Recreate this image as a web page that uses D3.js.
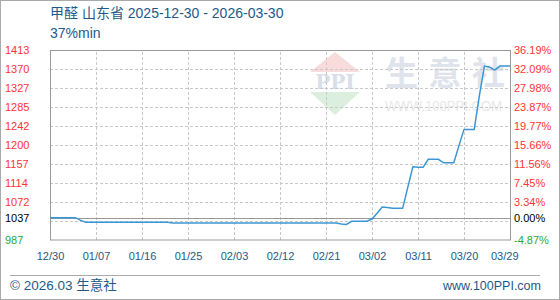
<!DOCTYPE html>
<html>
<head>
<meta charset="utf-8">
<script src="https://cdn.jsdelivr.net/npm/d3@7"></script>
<style>
  body { margin: 0; background: #fff; }
  svg { display: block; font-family: "Liberation Sans", Arial, sans-serif; }
</style>
</head>
<body>
<div id="chart"></div>
<script>
// chart data
var title = "甲醛 山东省 2025-12-30 - 2026-03-30";
var subtitle = "37%min";
var baseValue = 1037;

var xTickLabels = ["12/30", "01/07", "01/16", "01/25", "02/03", "02/12", "02/21", "03/02", "03/11", "03/20", "03/29"];
var xTickIndex = [0, 9, 18, 27, 36, 45, 54, 63, 72, 81, 90];

var yTickValues = [987, 1029.6, 1072.2, 1114.8, 1157.4, 1200, 1242.6, 1285.2, 1327.8, 1370.4, 1413];
var yTickLabels = ["987", "", "1072", "1114", "1157", "1200", "1242", "1285", "1327", "1370", "1413"];
var pctLabels = ["-4.87%", "", "3.34%", "7.45%", "11.56%", "15.66%", "19.77%", "23.87%", "27.98%", "32.09%", "36.19%"];

// daily price, 91 points
var prices = [
  1037, 1037, 1037, 1037, 1037, 1037, 1031, 1027, 1027, 1027,
  1027, 1027, 1027, 1027, 1027, 1027, 1027, 1027, 1027, 1027,
  1027, 1027, 1027, 1027, 1025, 1025, 1025, 1025, 1025, 1025,
  1025, 1025, 1025, 1025, 1025, 1025, 1025, 1025, 1025, 1025,
  1025, 1025, 1025, 1025, 1025, 1025, 1025, 1025, 1025, 1025,
  1025, 1025, 1025, 1025, 1025, 1025, 1025, 1023, 1022, 1029,
  1029, 1029, 1029, 1034, 1047, 1061, 1060, 1058, 1058, 1058,
  1105, 1151, 1150, 1150, 1168, 1168, 1168, 1160, 1160, 1160,
  1198, 1235, 1235, 1235, 1310, 1377, 1375, 1368, 1377, 1377,
  1377
];

var svgWidth = 560;
var svgHeight = 300;
var margin = { top: 50, right: 50, bottom: 60, left: 50 };
var width = svgWidth - margin.left - margin.right;
var height = svgHeight - margin.top - margin.bottom;

var blue = "#1d5a88";
var red = "#ff3333";
var green = "#2ea82e";
var mixedFont = "'Liberation Sans', 'Noto Sans CJK SC', sans-serif";

var svg = d3.select("#chart")
  .append("svg")
  .attr("width", svgWidth)
  .attr("height", svgHeight);

// outer frame
svg.append("rect")
  .attr("x", 0.5).attr("y", 0.5)
  .attr("width", svgWidth - 1).attr("height", svgHeight - 1)
  .attr("fill", "none").attr("stroke", "#aaa");

// title
svg.append("text").attr("x", 50).attr("y", 18)
  .attr("fill", blue).attr("font-size", 14)
  .attr("font-family", mixedFont)
  .text(title);
svg.append("text").attr("x", 50).attr("y", 38)
  .attr("fill", blue).attr("font-size", 14)
  .text(subtitle);

var xScale = d3.scaleLinear().domain([0, prices.length - 1]).range([0, width]);
var yScale = d3.scaleLinear().domain([987, 1413]).range([height, 0]);

var chartGroup = svg.append("g")
  .attr("transform", `translate(${margin.left}, ${margin.top})`);

// watermark
var wm = chartGroup.append("g").attr("transform", "translate(285, 0)");
wm.append("path").attr("d", "M-25,22 L0,2 L25,22 Z").attr("fill", "#f8dcdc");
wm.append("text").attr("x", 0).attr("y", 39).attr("text-anchor", "middle")
  .attr("font-size", 20).attr("font-weight", "bold")
  .attr("font-family", "'DejaVu Serif', serif")
  .attr("fill", "#d8dfea").text("PPI");
wm.append("path").attr("d", "M-25,42 L25,42 L0,65 Z").attr("fill", "#dcefdf");
wm.append("text").attr("x", 50).attr("y", 35)
  .attr("font-size", 33)
  .attr("textLength", 120).attr("lengthAdjust", "spacing")
  .attr("font-family", "'Noto Sans CJK SC', sans-serif").attr("font-weight", "bold")
  .attr("fill", "#dfe3ec").text("生意社");
wm.append("text").attr("x", 50).attr("y", 61)
  .attr("font-size", 14)
  .attr("textLength", 117).attr("lengthAdjust", "spacingAndGlyphs")
  .attr("fill", "#e8e8e8").text("WWW.100PPI.COM");

// horizontal grid
chartGroup.append("g")
  .call(d3.axisLeft(yScale).tickValues(yTickValues.slice(1, -1)).tickSize(-width).tickFormat(""))
  .call(g => g.select(".domain").remove())
  .call(g => g.selectAll("line").attr("stroke", "#c8c8c8").attr("stroke-dasharray", "3,2"));

// vertical grid
chartGroup.append("g")
  .attr("transform", `translate(0,${height})`)
  .call(d3.axisBottom(xScale).tickValues(xTickIndex.slice(1, -1)).tickSize(-height).tickFormat(""))
  .call(g => g.select(".domain").remove())
  .call(g => g.selectAll("line").attr("stroke", "#c8c8c8").attr("stroke-dasharray", "3,2"));

// base line
chartGroup.append("line")
  .attr("x1", 0).attr("x2", width)
  .attr("y1", Math.round(yScale(baseValue)) + 0.5).attr("y2", Math.round(yScale(baseValue)) + 0.5)
  .attr("stroke", "#999");

// plot frame
chartGroup.append("rect")
  .attr("x", 0.5).attr("y", 0.5)
  .attr("width", width).attr("height", height - 0.5)
  .attr("fill", "none").attr("stroke", "#999");

// left axis labels
var leftAxis = chartGroup.append("g")
  .call(d3.axisLeft(yScale).tickValues(yTickValues.concat([baseValue])).tickSize(0)
    .tickFormat((d, i) => i < yTickLabels.length ? yTickLabels[i] : String(baseValue)));
leftAxis.select(".domain").remove();
leftAxis.selectAll("text")
  .attr("x", -45).attr("text-anchor", "start")
  .attr("font-size", 11).attr("font-family", "'Liberation Sans', Arial, sans-serif")
  .attr("fill", d => d === baseValue ? "#000" : (d < baseValue ? green : red));

// right axis labels
var rightAxis = chartGroup.append("g")
  .attr("transform", `translate(${width},0)`)
  .call(d3.axisRight(yScale).tickValues(yTickValues.concat([baseValue])).tickSize(0)
    .tickFormat((d, i) => i < pctLabels.length ? pctLabels[i] : "0.00%"));
rightAxis.select(".domain").remove();
rightAxis.selectAll("text")
  .attr("x", 4).attr("text-anchor", "start")
  .attr("font-size", 11).attr("font-family", "'Liberation Sans', Arial, sans-serif")
  .attr("fill", d => d === baseValue ? "#000" : (d < baseValue ? green : red));

// x axis labels
var bottomAxis = chartGroup.append("g")
  .attr("transform", `translate(0,${height})`)
  .call(d3.axisBottom(xScale).tickValues(xTickIndex).tickSize(0)
    .tickFormat((d, i) => xTickLabels[i]));
bottomAxis.select(".domain").remove();
bottomAxis.selectAll("text")
  .attr("y", 12)
  .attr("font-size", 11).attr("font-family", "'Liberation Sans', Arial, sans-serif")
  .attr("fill", blue)
  .attr("text-anchor", (d, i) => i === xTickIndex.length - 1 ? "end" : "middle")
  .attr("dx", (d, i) => i === xTickIndex.length - 1 ? 8 : 0);

// price line
var line = d3.line()
  .x((d, i) => xScale(i))
  .y(d => yScale(d));

chartGroup.append("path")
  .datum(prices)
  .attr("fill", "none")
  .attr("stroke", "#3b97d3")
  .attr("stroke-width", 1.5)
  .attr("d", line);

// footer
svg.append("line")
  .attr("x1", 10).attr("x2", 540).attr("y1", 275.5).attr("y2", 275.5)
  .attr("stroke", "#aaa");
svg.append("text").attr("x", 10).attr("y", 290)
  .attr("fill", blue).attr("font-size", 13.5)
  .attr("font-family", mixedFont)
  .text("© 2026.03 生意社");
svg.append("text").attr("x", 541).attr("y", 290)
  .attr("text-anchor", "end")
  .attr("fill", blue).attr("font-size", 12.5)
  .text("www.100PPI.com");
</script>
</body>
</html>
